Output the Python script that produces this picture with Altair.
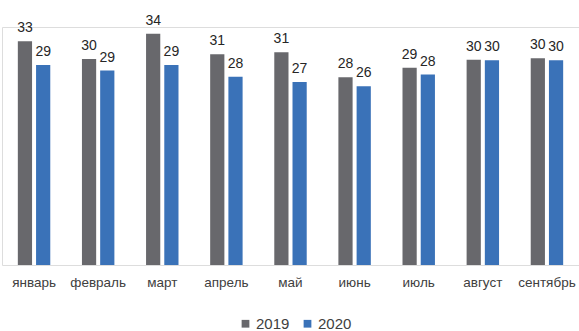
import altair as alt
import pandas as pd

months = ["январь", "февраль", "март", "апрель", "май", "июнь", "июль", "август", "сентябрь"]
years = ["2019", "2020"]
v2019 = [32.9, 30.3, 34.0, 31.0, 31.3, 27.6, 29.0, 30.2, 30.4]
v2020 = [29.4, 28.6, 29.4, 27.7, 26.9, 26.3, 28.0, 30.1, 30.1]
colors = ["#68686c", "#3a72b8"]

rows = []
for i, m in enumerate(months):
    rows.append({"month": m, "year": years[0], "value": v2019[i]})
    rows.append({"month": m, "year": years[1], "value": v2020[i]})
df = pd.DataFrame(rows)

FONT = "Liberation Sans"

x = alt.X("month:N", sort=months, title=None,
          scale=alt.Scale(paddingInner=0.494, paddingOuter=0.247),
          axis=alt.Axis(labelAngle=0, domain=False, ticks=False, tickSize=0,
                        labelPadding=10, labelFontSize=13.5, labelColor="#404040",
                        labelFont=FONT, grid=False))
xo = alt.XOffset("year:N", scale=alt.Scale(paddingInner=0.22, paddingOuter=0))
y = alt.Y("value:Q", scale=alt.Scale(domain=[0, 35], nice=False, zero=True), axis=None)

bars = alt.Chart(df).mark_bar().encode(
    x=x, xOffset=xo, y=y,
    color=alt.Color("year:N", scale=alt.Scale(domain=years, range=colors),
                    legend=alt.Legend(title=None, orient="none", direction="horizontal",
                                      legendX=236, legendY=289, symbolType="square",
                                      symbolSize=60, symbolStrokeWidth=0,
                                      labelFontSize=15, labelFont=FONT,
                                      labelColor="#404040", labelOffset=3,
                                      columnPadding=10, padding=0)),
)

labels = alt.Chart(df).mark_text(baseline="alphabetic", dy=-9, fontSize=14,
                                 font=FONT, color="#262626").encode(
    x=x, xOffset=xo, y=y,
    text=alt.Text("value:Q", format=".0f"),
)

chart = alt.layer(bars, labels).properties(
    width=577, height=238,
    autosize=alt.AutoSizeParams(type="none"),
    padding={"left": 2, "right": 0, "top": 27, "bottom": 66},
).configure_view(stroke=None).configure(background="white")

chart.save("out.html", embed_options={"renderer": "svg", "actions": False})
